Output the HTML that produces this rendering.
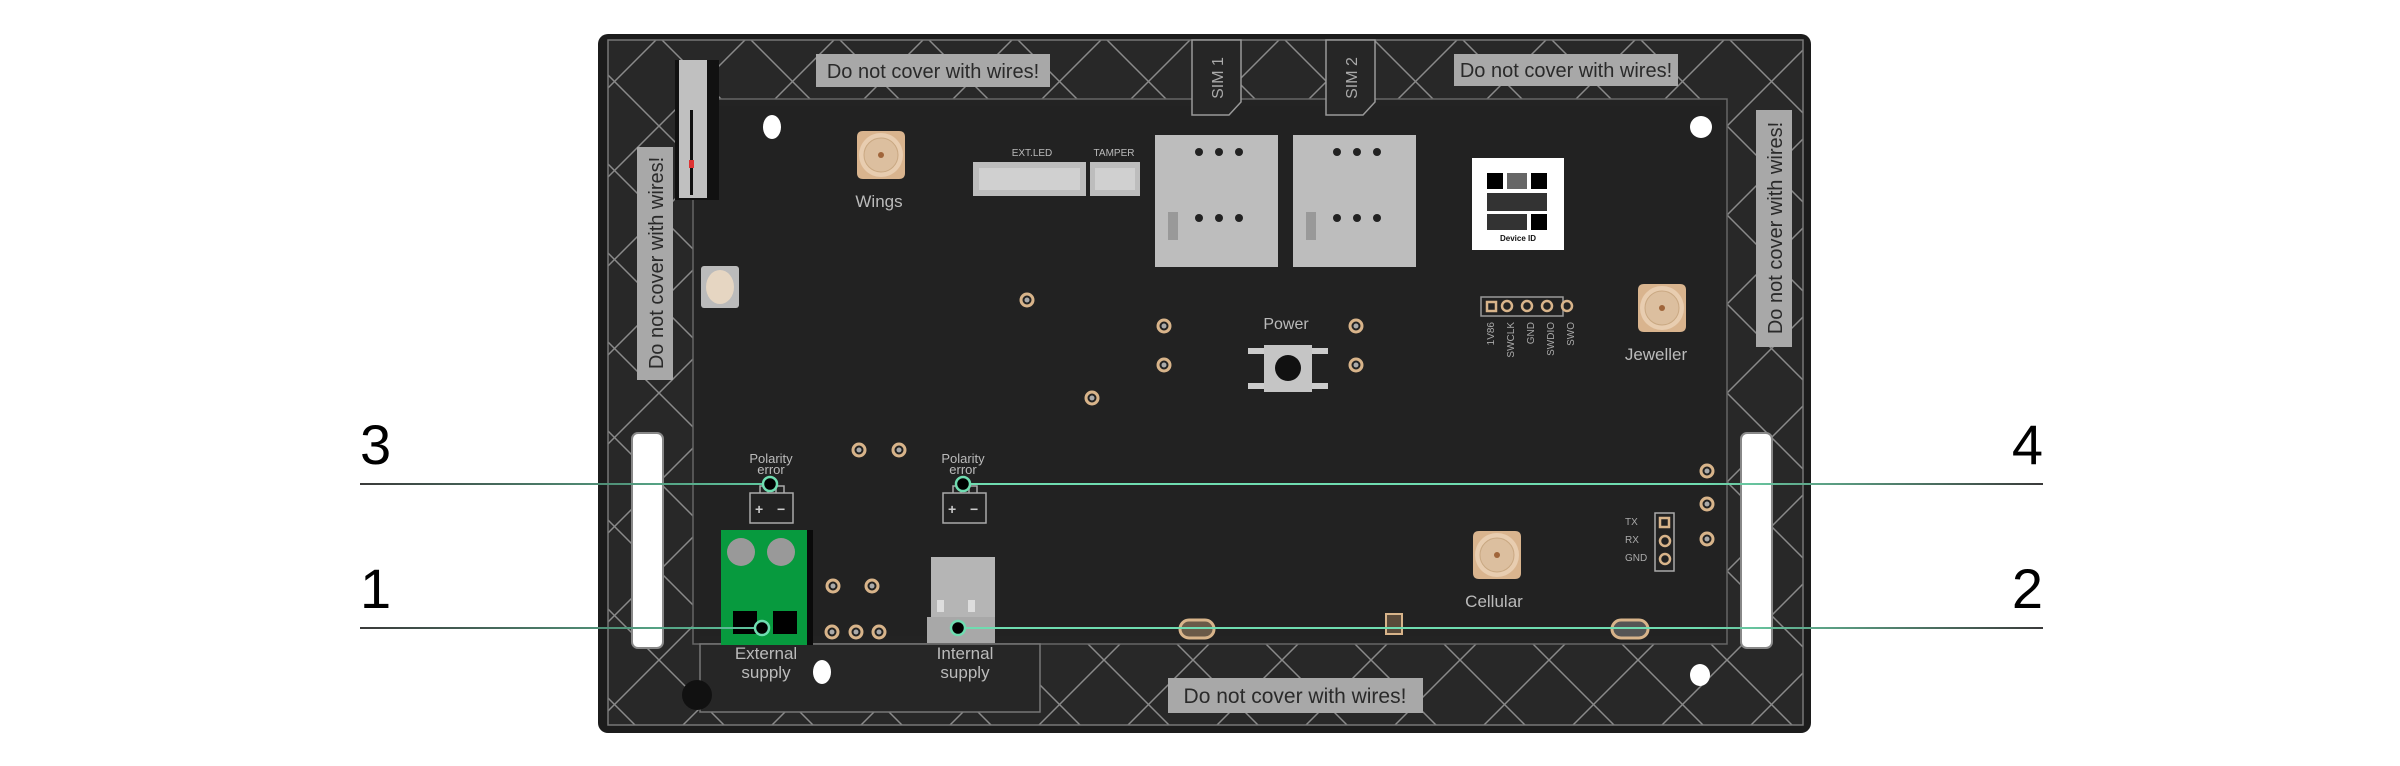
<!DOCTYPE html>
<html><head><meta charset="utf-8"><style>
html,body{margin:0;padding:0;background:#fff;width:2400px;height:766px;overflow:hidden}
svg{display:block}
text{font-family:"Liberation Sans",sans-serif}
</style></head><body>
<svg width="2400" height="766" viewBox="0 0 2400 766" xmlns="http://www.w3.org/2000/svg">
<defs>
<pattern id="dia" width="89" height="89" patternUnits="userSpaceOnUse" x="659" y="37">
<path d="M0 0L89 89M89 0L0 89" stroke="#8a8a8a" stroke-width="1.5" fill="none"/>
</pattern>
<linearGradient id="gl" x1="360" x2="770" y1="0" y2="0" gradientUnits="userSpaceOnUse"><stop offset="0" stop-color="#3a3a3a"/><stop offset="1" stop-color="#5fc9a0"/></linearGradient>
<linearGradient id="gr" x1="2043" x2="1700" y1="0" y2="0" gradientUnits="userSpaceOnUse"><stop offset="0" stop-color="#3a3a3a"/><stop offset="1" stop-color="#6fdcb0"/></linearGradient>
<g id="ant"><path d="M-24 -18q0-6 6-6h36q6 0 6 6v36q0 6-6 6h-36q-6 0-6-6z" fill="#d9b48e"/><circle r="22" fill="#e8cdb0"/><circle r="17" fill="#dcbf9f" stroke="#c9a882"/><circle r="3" fill="#a0653a"/></g>
<g id="pad"><circle r="6" fill="none" stroke="#d8b48a" stroke-width="3"/><circle r="2.5" fill="#aaa"/></g>
</defs>

<rect x="598" y="34" width="1213" height="699" rx="10" fill="#1c1c1c"/>
<rect x="608" y="40" width="1195" height="685" fill="#282828"/>
<rect x="608" y="40" width="1195" height="685" fill="url(#dia)"/>
<rect x="608" y="40" width="1195" height="685" fill="none" stroke="#777" stroke-width="1.5"/>
<rect x="693" y="99" width="1034" height="545" fill="#232323" stroke="#666" stroke-width="1.5"/>
<rect x="700" y="106" width="1020" height="530" fill="#222"/>
<rect x="700" y="644" width="340" height="68" fill="#262626" stroke="#777" stroke-width="1.5"/>

<rect x="816" y="54" width="234" height="33" fill="#a8a8a8"/>
<text x="933" y="78" font-size="20" fill="#2a2a2a" text-anchor="middle">Do not cover with wires!</text>
<rect x="1454" y="54" width="224" height="32" fill="#a8a8a8"/>
<text x="1566" y="77" font-size="20" fill="#2a2a2a" text-anchor="middle">Do not cover with wires!</text>
<rect x="1168" y="678" width="255" height="35" fill="#a8a8a8"/>
<text x="1295" y="703" font-size="21" fill="#2a2a2a" text-anchor="middle">Do not cover with wires!</text>
<rect x="637" y="147" width="36" height="233" fill="#a8a8a8"/>
<text transform="translate(663,263) rotate(-90)" font-size="20" fill="#2a2a2a" text-anchor="middle">Do not cover with wires!</text>
<rect x="1756" y="110" width="36" height="237" fill="#a8a8a8"/>
<text transform="translate(1782,228) rotate(-90)" font-size="20" fill="#2a2a2a" text-anchor="middle">Do not cover with wires!</text>

<path d="M1192 40h49v62l-12 13h-37z" fill="#262626" stroke="#999" stroke-width="1.5"/>
<text transform="translate(1223,78) rotate(-90)" font-size="16" fill="#aaa" text-anchor="middle">SIM 1</text>
<path d="M1326 40h49v62l-12 13h-37z" fill="#262626" stroke="#999" stroke-width="1.5"/>
<text transform="translate(1357,78) rotate(-90)" font-size="16" fill="#aaa" text-anchor="middle">SIM 2</text>

<rect x="675" y="60" width="44" height="140" fill="#111"/>
<rect x="679" y="60" width="28" height="138" fill="#c0c0c0"/>
<rect x="690" y="110" width="3" height="85" fill="#111"/>
<rect x="689" y="160" width="5" height="8" fill="#d33"/>
<rect x="701" y="266" width="38" height="42" rx="3" fill="#bbb"/>
<ellipse cx="720" cy="287" rx="14" ry="17" fill="#e6d6c2"/>

<ellipse cx="772" cy="127" rx="9" ry="12" fill="#fff"/>
<ellipse cx="1701" cy="127" rx="11" ry="11" fill="#fff"/>
<ellipse cx="822" cy="672" rx="9" ry="12" fill="#fff"/>
<ellipse cx="1700" cy="675" rx="10" ry="11" fill="#fff"/>
<circle cx="697" cy="695" r="15" fill="#111"/>

<rect x="632" y="433" width="31" height="215" rx="6" fill="#fff" stroke="#888" stroke-width="2"/>
<rect x="1741" y="433" width="31" height="215" rx="6" fill="#fff" stroke="#888" stroke-width="2"/>

<use href="#ant" x="881" y="155"/>
<text x="879" y="207" font-size="17" fill="#bbb" text-anchor="middle">Wings</text>
<use href="#ant" x="1662" y="308"/>
<text x="1656" y="360" font-size="17" fill="#bbb" text-anchor="middle">Jeweller</text>
<use href="#ant" x="1497" y="555"/>
<text x="1494" y="607" font-size="17" fill="#bbb" text-anchor="middle">Cellular</text>

<text x="1032" y="156" font-size="10" fill="#bbb" text-anchor="middle">EXT.LED</text>
<text x="1114" y="156" font-size="10" fill="#bbb" text-anchor="middle">TAMPER</text>
<rect x="973" y="162" width="113" height="34" fill="#bdbdbd"/>
<rect x="979" y="168" width="101" height="22" fill="#d0d0d0"/>
<rect x="1090" y="162" width="50" height="34" fill="#bdbdbd"/>
<rect x="1095" y="168" width="40" height="22" fill="#d0d0d0"/>

<rect x="1155" y="135" width="123" height="132" fill="#bdbdbd"/>
<rect x="1293" y="135" width="123" height="132" fill="#bdbdbd"/>
<g fill="#222">
<circle cx="1199" cy="152" r="4"/><circle cx="1219" cy="152" r="4"/><circle cx="1239" cy="152" r="4"/>
<circle cx="1199" cy="218" r="4"/><circle cx="1219" cy="218" r="4"/><circle cx="1239" cy="218" r="4"/>
<circle cx="1337" cy="152" r="4"/><circle cx="1357" cy="152" r="4"/><circle cx="1377" cy="152" r="4"/>
<circle cx="1337" cy="218" r="4"/><circle cx="1357" cy="218" r="4"/><circle cx="1377" cy="218" r="4"/>
</g>
<rect x="1168" y="212" width="10" height="28" fill="#999"/><rect x="1306" y="212" width="10" height="28" fill="#999"/>

<rect x="1472" y="158" width="92" height="92" fill="#fff"/>
<g fill="#000">
<rect x="1487" y="173" width="16" height="16"/><rect x="1531" y="173" width="16" height="16"/><rect x="1531" y="214" width="16" height="16"/>
<rect x="1487" y="193" width="60" height="18" opacity="0.8"/><rect x="1487" y="214" width="40" height="16" opacity="0.8"/><rect x="1507" y="173" width="20" height="16" opacity="0.6"/>
</g>
<text x="1518" y="241" font-size="8" font-weight="bold" fill="#111" text-anchor="middle">Device ID</text>

<rect x="1481" y="297" width="82" height="19" fill="none" stroke="#999" stroke-width="1.5"/>
<g fill="none" stroke="#d8b48a" stroke-width="2.5"><rect x="1487" y="302" width="9" height="9"/><circle cx="1507" cy="306" r="5"/><circle cx="1527" cy="306" r="5"/><circle cx="1547" cy="306" r="5"/><circle cx="1567" cy="306" r="5" /></g>
<g font-size="10" fill="#aaa" text-anchor="end">
<text transform="translate(1494,322) rotate(-90)">1V86</text><text transform="translate(1514,322) rotate(-90)">SWCLK</text><text transform="translate(1534,322) rotate(-90)">GND</text><text transform="translate(1554,322) rotate(-90)">SWDIO</text><text transform="translate(1574,322) rotate(-90)">SWO</text>
</g>

<text x="1286" y="329" font-size="16" fill="#bbb" text-anchor="middle">Power</text>
<rect x="1248" y="348" width="80" height="6" fill="#ccc"/><rect x="1248" y="383" width="80" height="6" fill="#ccc"/>
<rect x="1264" y="345" width="48" height="47" fill="#c5c5c5"/><circle cx="1288" cy="368" r="13" fill="#111"/>
<use href="#pad" x="1164" y="326"/><use href="#pad" x="1164" y="365"/><use href="#pad" x="1356" y="326"/><use href="#pad" x="1356" y="365"/>
<use href="#pad" x="1027" y="300"/><use href="#pad" x="1092" y="398"/>
<use href="#pad" x="859" y="450"/><use href="#pad" x="899" y="450"/><use href="#pad" x="833" y="586"/><use href="#pad" x="872" y="586"/>
<use href="#pad" x="832" y="632"/><use href="#pad" x="856" y="632"/><use href="#pad" x="879" y="632"/>
<use href="#pad" x="1707" y="471"/><use href="#pad" x="1707" y="504"/><use href="#pad" x="1707" y="539"/>

<g font-size="10" fill="#aaa"><text x="1625" y="525">TX</text><text x="1625" y="543">RX</text><text x="1625" y="561">GND</text></g>
<rect x="1655" y="513" width="19" height="58" fill="none" stroke="#aaa" stroke-width="1.5"/>
<g fill="none" stroke="#d8b48a" stroke-width="2.5"><rect x="1660" y="518" width="9" height="9"/><circle cx="1665" cy="541" r="5"/><circle cx="1665" cy="559" r="5"/></g>

<rect x="1180" y="620" width="34" height="18" rx="9" fill="#6a5a48" stroke="#d8b48a" stroke-width="3"/>
<rect x="1612" y="620" width="36" height="18" rx="9" fill="#555" stroke="#d8b48a" stroke-width="3"/>
<rect x="1386" y="614" width="16" height="20" fill="#5a4a3a" stroke="#d8b48a" stroke-width="2"/>

<g font-size="13" fill="#bbb" text-anchor="middle"><text x="771" y="463">Polarity</text><text x="771" y="474">error</text><text x="963" y="463">Polarity</text><text x="963" y="474">error</text></g>
<g fill="none" stroke="#aaa" stroke-width="1.5">
<rect x="750" y="493" width="43" height="30"/><rect x="943" y="493" width="43" height="30"/>
<path d="M760 493v-7h8v7M776 493v-7h8v7M953 493v-7h8v7M969 493v-7h8v7"/>
</g>
<g fill="#ccc" font-size="14" font-weight="bold"><text x="755" y="514">+</text><text x="777" y="514">−</text><text x="948" y="514">+</text><text x="970" y="514">−</text></g>

<rect x="725" y="530" width="88" height="115" fill="#0a0a0a"/>
<rect x="721" y="530" width="86" height="115" fill="#079a3e"/>
<circle cx="741" cy="552" r="14" fill="#999"/><circle cx="781" cy="552" r="14" fill="#999"/>
<rect x="733" y="611" width="24" height="23" fill="#000"/><rect x="773" y="611" width="24" height="23" fill="#000"/>
<text x="766" y="659" font-size="17" fill="#bbb" text-anchor="middle">External</text>
<text x="766" y="678" font-size="17" fill="#bbb" text-anchor="middle">supply</text>

<rect x="931" y="557" width="64" height="60" fill="#b5b5b5"/>
<rect x="927" y="617" width="68" height="26" fill="#a8a8a8"/>
<rect x="937" y="600" width="7" height="12" fill="#ddd"/><rect x="968" y="600" width="7" height="12" fill="#ddd"/>
<text x="965" y="659" font-size="17" fill="#bbb" text-anchor="middle">Internal</text>
<text x="965" y="678" font-size="17" fill="#bbb" text-anchor="middle">supply</text>

<line x1="360" y1="484" x2="770" y2="484" stroke="url(#gl)" stroke-width="2"/>
<line x1="360" y1="628" x2="762" y2="628" stroke="url(#gl)" stroke-width="2"/>
<line x1="963" y1="484" x2="2043" y2="484" stroke="url(#gr)" stroke-width="2"/>
<line x1="958" y1="628" x2="2043" y2="628" stroke="url(#gr)" stroke-width="2"/>
<g fill="#000" stroke="#6fdcb0" stroke-width="2.5">
<circle cx="770" cy="484" r="7"/><circle cx="963" cy="484" r="7"/><circle cx="762" cy="628" r="7"/><circle cx="958" cy="628" r="7"/>
</g>
<g font-size="56" fill="#000">
<text x="360" y="464">3</text><text x="360" y="608">1</text>
<text x="2043" y="464" text-anchor="end">4</text><text x="2043" y="608" text-anchor="end">2</text>
</g>
</svg>
</body></html>
